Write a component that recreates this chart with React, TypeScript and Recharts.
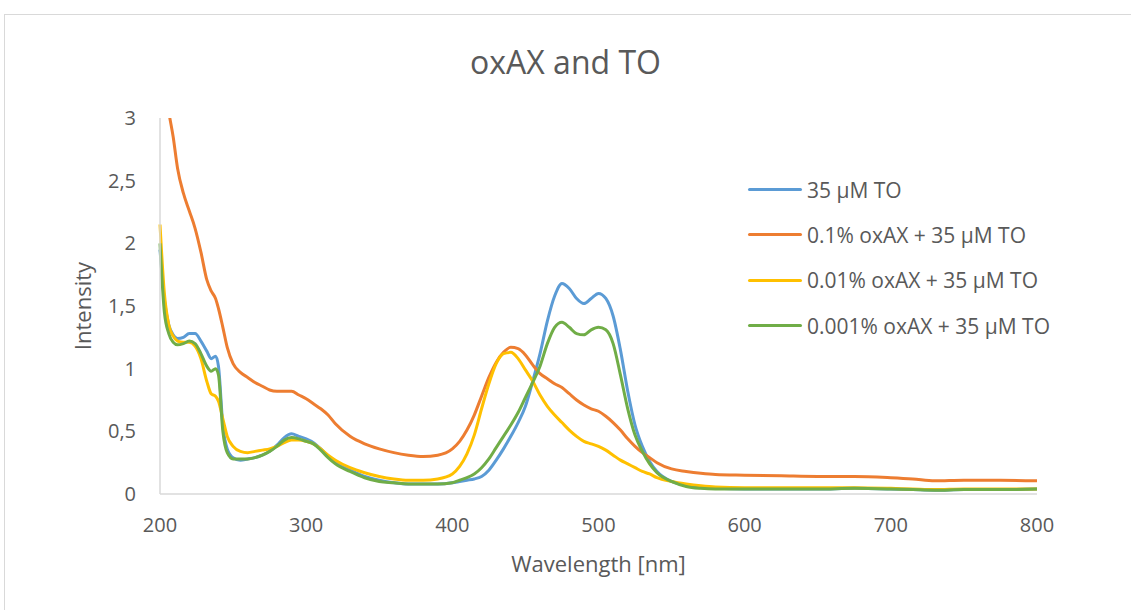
import React from 'react';
import { LineChart, Line, XAxis, YAxis } from 'recharts';

// wavelength grid shared by all four spectra (nm)
const wavelengths = [
  200, 203, 206, 209, 212, 216, 220, 224, 228, 232,
  235, 238, 240, 243, 246, 250, 255, 260, 265, 270,
  275, 280, 285, 290, 295, 300, 305, 310, 315, 320,
  330, 340, 350, 360, 370, 380, 390, 400, 405, 410,
  415, 420, 425, 430, 435, 440, 445, 450, 455, 460,
  465, 470, 475, 480, 485, 490, 495, 500, 505, 510,
  515, 520, 525, 530, 535, 540, 550, 560, 570, 580,
  600, 625, 650, 675, 700, 715, 730, 750, 775, 800,
];

const to35 = [
  1.95, 1.55, 1.35, 1.27, 1.24, 1.25, 1.28, 1.28, 1.22, 1.14,
  1.08, 1.10, 1.02, 0.55, 0.36, 0.29, 0.27, 0.28, 0.29, 0.31,
  0.34, 0.39, 0.45, 0.48, 0.46, 0.44, 0.41, 0.36, 0.30, 0.25,
  0.19, 0.14, 0.11, 0.09, 0.08, 0.08, 0.08, 0.09, 0.10, 0.11,
  0.12, 0.14, 0.19, 0.27, 0.36, 0.46, 0.57, 0.70, 0.90, 1.12,
  1.38, 1.58, 1.68, 1.64, 1.56, 1.52, 1.56, 1.60, 1.56, 1.42,
  1.15, 0.82, 0.55, 0.38, 0.26, 0.18, 0.10, 0.07, 0.05, 0.045,
  0.04, 0.04, 0.04, 0.045, 0.04, 0.035, 0.03, 0.035, 0.035, 0.04,
];

const ox01 = [
  3.6, 3.3, 3.05, 2.85, 2.6, 2.4, 2.26, 2.12, 1.93, 1.71,
  1.62, 1.56, 1.48, 1.33, 1.17, 1.04, 0.97, 0.93, 0.89, 0.86,
  0.83, 0.82, 0.82, 0.82, 0.79, 0.76, 0.72, 0.68, 0.63, 0.56,
  0.46, 0.40, 0.36, 0.33, 0.31, 0.30, 0.31, 0.36, 0.42, 0.51,
  0.63, 0.78, 0.93, 1.05, 1.13, 1.17, 1.16, 1.11, 1.03, 0.96,
  0.92, 0.88, 0.85, 0.80, 0.75, 0.71, 0.68, 0.66, 0.62, 0.57,
  0.51, 0.44, 0.38, 0.33, 0.29, 0.25, 0.20, 0.18, 0.165, 0.155,
  0.15, 0.145, 0.14, 0.14, 0.13, 0.12, 0.105, 0.11, 0.11, 0.105,
];

const ox001 = [
  2.15, 1.6, 1.35, 1.26, 1.22, 1.21, 1.21, 1.18, 1.08, 0.90,
  0.80, 0.78, 0.74, 0.60, 0.46, 0.38, 0.34, 0.33, 0.34, 0.35,
  0.36, 0.38, 0.41, 0.43, 0.43, 0.42, 0.40, 0.36, 0.31, 0.27,
  0.21, 0.17, 0.14, 0.12, 0.11, 0.11, 0.12, 0.16, 0.22, 0.32,
  0.47, 0.68, 0.88, 1.04, 1.12, 1.13, 1.08, 0.99, 0.90, 0.79,
  0.70, 0.63, 0.57, 0.51, 0.46, 0.42, 0.40, 0.38, 0.35, 0.31,
  0.27, 0.24, 0.21, 0.18, 0.16, 0.13, 0.10, 0.08, 0.065, 0.055,
  0.05, 0.05, 0.05, 0.05, 0.045, 0.04, 0.035, 0.04, 0.04, 0.04,
];

const ox0001 = [
  2.0, 1.45, 1.28, 1.21, 1.19, 1.20, 1.22, 1.20, 1.12, 1.02,
  0.98, 1.00, 0.95, 0.50, 0.33, 0.28, 0.28, 0.28, 0.29, 0.31,
  0.34, 0.38, 0.43, 0.45, 0.44, 0.42, 0.40, 0.35, 0.29, 0.24,
  0.18, 0.13, 0.10, 0.09, 0.08, 0.08, 0.08, 0.09, 0.11, 0.13,
  0.16, 0.21, 0.28, 0.37, 0.46, 0.55, 0.65, 0.77, 0.89, 1.02,
  1.20, 1.33, 1.37, 1.33, 1.28, 1.27, 1.31, 1.33, 1.31, 1.20,
  0.95, 0.68, 0.47, 0.34, 0.24, 0.17, 0.10, 0.06, 0.045, 0.04,
  0.04, 0.04, 0.04, 0.045, 0.04, 0.035, 0.03, 0.035, 0.035, 0.04,
];

const xTicks = [200, 300, 400, 500, 600, 700, 800];
const yTicks = [0, 0.5, 1, 1.5, 2, 2.5, 3];

const series = [
  { key: 'to35', name: '35 µM TO', color: '#5B9BD5' },
  { key: 'ox01', name: '0.1% oxAX + 35 µM TO', color: '#ED7D31' },
  { key: 'ox001', name: '0.01% oxAX + 35 µM TO', color: '#FFC000' },
  { key: 'ox0001', name: '0.001% oxAX + 35 µM TO', color: '#70AD47' },
];

const data = wavelengths.map((w, i) => ({
  w,
  to35: to35[i],
  ox01: ox01[i],
  ox001: ox001[i],
  ox0001: ox0001[i],
}));

const FONT = '"Open Sans", sans-serif';
const TEXT = '#595959';

// legend sits over the right part of the plot, so it is laid out by hand
const SpectraLegend = () => (
  <div style={{ position: 'absolute', left: 748, top: 167, fontFamily: FONT, fontSize: 21, color: TEXT }}>
    {series.map(s => (
      <div key={s.key} style={{ display: 'flex', alignItems: 'center', height: 45.3, whiteSpace: 'nowrap' }}>
        <span style={{ width: 54, height: 3, background: s.color, borderRadius: 2, marginRight: 5 }} />
        <span>{s.name}</span>
      </div>
    ))}
  </div>
);

export default function App() {
  return (
    <div style={{ position: 'absolute', left: 0, top: 0, width: 1131, height: 610, background: '#fff', overflow: 'hidden' }}>
      <div style={{ position: 'absolute', left: 4, top: 14, width: 1200, height: 700, border: '1px solid #d9d9d9' }} />
      <div style={{ position: 'absolute', left: 0, width: 1131, top: 40, textAlign: 'center', fontFamily: FONT, fontSize: 32, color: TEXT }}>
        oxAX and TO
      </div>
      <LineChart
        width={1131}
        height={610}
        data={data}
        margin={{ top: 118, right: 94, left: 0, bottom: 0 }}
        style={{ position: 'absolute', left: 0, top: 0, fontFamily: FONT }}
      >
        <XAxis
          dataKey="w"
          type="number"
          domain={[200, 800]}
          ticks={xTicks}
          height={116}
          stroke="#d9d9d9"
          strokeWidth={1.5}
          tickLine={false}
          tickSize={0}
          tickMargin={24}
          tick={{ fill: TEXT, fontSize: 20 }}
          label={{ value: 'Wavelength [nm]', position: 'insideTop', offset: 62, fill: TEXT, fontSize: 22 }}
        />
        <YAxis
          type="number"
          domain={[0, 3]}
          ticks={yTicks}
          allowDataOverflow
          width={160}
          stroke="#d9d9d9"
          strokeWidth={1.5}
          tickLine={false}
          tickSize={0}
          tickMargin={24}
          tick={{ fill: TEXT, fontSize: 20 }}
          tickFormatter={(v: number) => String(v).replace('.', ',')}
          label={{ value: 'Intensity', angle: -90, position: 'insideLeft', offset: 83, fill: TEXT, fontSize: 22, style: { textAnchor: 'middle' } }}
        />
        {series.map(s => (
          <Line
            key={s.key}
            dataKey={s.key}
            name={s.name}
            type="monotone"
            stroke={s.color}
            strokeWidth={3}
            dot={false}
            activeDot={false}
            isAnimationActive={false}
          />
        ))}
      </LineChart>
      <SpectraLegend />
    </div>
  );
}
